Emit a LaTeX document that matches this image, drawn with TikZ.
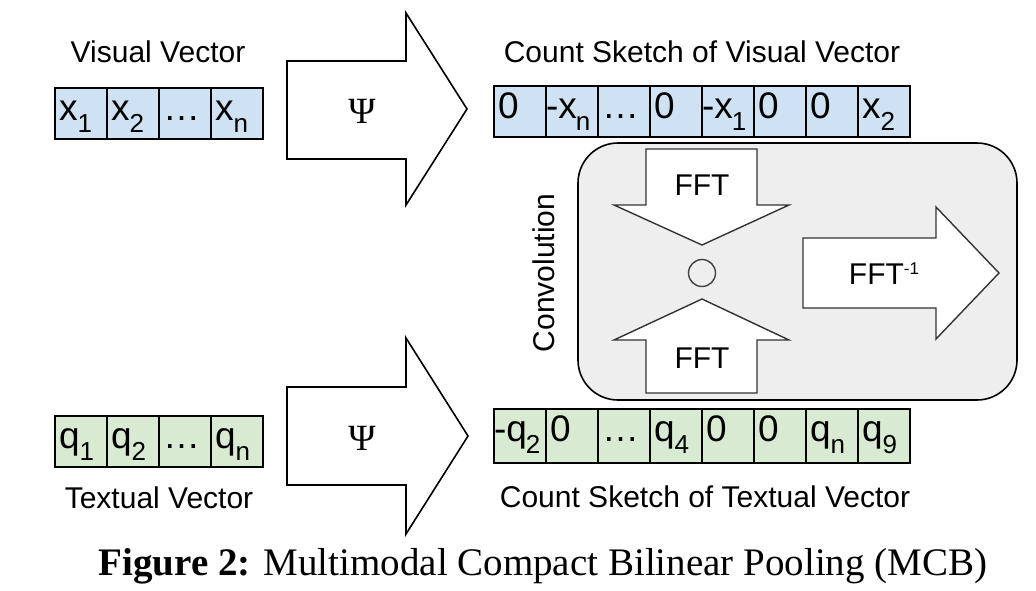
\documentclass[tikz,border=0pt]{standalone}
\usepackage{fontspec}
\setmainfont{Liberation Sans}
\newfontfamily\serifcap{Liberation Serif}
\usetikzlibrary{positioning}

\definecolor{visblue}{HTML}{CFE2F3}
\definecolor{txtgreen}{HTML}{D9EAD3}
\definecolor{convgray}{HTML}{EEEEEE}

\newcommand\lowidx[1]{\raisebox{-12pt}{\fontsize{26}{26}\selectfont #1}}
\newcommand\highidx[1]{\raisebox{10pt}{\fontsize{17}{17}\selectfont #1}}
\newcommand\negval[2]{\mbox{\hspace{-4pt}-#1\kern-1pt\lowidx{#2}}}

\tikzset{
  cell/.style={draw, line width=1.6pt, outer sep=0pt, inner xsep=4pt, inner ysep=4pt,
    text width=44pt, align=left, text height=28pt, text depth=15pt,
    font=\fontsize{37}{37}\selectfont, anchor=north west},
  viscell/.style={cell, fill=visblue},
  txtcell/.style={cell, fill=txtgreen},
  sketchcell/.style={txtcell, text height=28pt, text depth=18pt},
  heading/.style={font=\fontsize{30}{36}\selectfont, anchor=base},
  block/.style={draw, line width=1.6pt, fill=white, line join=miter},
  innerblock/.style={block, draw=black!80, line width=1.4pt},
  psi/.style={font=\serifcap\fontsize{37}{37}\selectfont, anchor=base},
}

\begin{document}
\begin{tikzpicture}[x=1pt, y=-1pt]
    \useasboundingbox (0,0) rectangle (1036,590);

    % convolution box
    \draw[line width=1.6pt, fill=convgray, rounded corners=40pt] (578,143) rectangle (1017,400);
    \node[heading, anchor=center, rotate=90] (conv) at (544,273) {Convolution};

    % block arrows
    \draw[block] (287,61) -- (406,61) -- (406,13) -- (467,109) -- (406,205) -- (406,159) -- (287,159) -- cycle;
    \draw[block] (287,387) -- (406,387) -- (406,338) -- (468,436) -- (406,534) -- (406,485) -- (287,485) -- cycle;
    \draw[innerblock] (646,149) -- (757,149) -- (757,205) -- (789,205) -- (702,245) -- (614,205) -- (646,205) -- cycle;
    \draw[innerblock] (646,393) -- (757,393) -- (757,340) -- (789,340) -- (702,299) -- (614,340) -- (646,340) -- cycle;
    \draw[innerblock] (803,238) -- (936,238) -- (936,207) -- (999,273) -- (936,339) -- (936,308) -- (803,308) -- cycle;

    \node[psi] (psiV) at (362,123) {Ψ};
    \node[psi] (psiT) at (362,450) {Ψ};
    \node[heading] (fftV) at (702,195) {FFT};
    \node[heading] (fftT) at (702,368) {FFT};
    \node[heading] (ifft) at (884,284) {FFT\highidx{-1}};
    \node[draw=black!75, circle, line width=1.4pt, minimum size=27pt, inner sep=0pt] (prod) at (702,273) {};

    % visual vector
    \node[heading] (visV) at (158,62) {Visual Vector};
    \node[viscell] (x1) at (55,88) {x\lowidx{1}};
    \node[viscell, right=0pt of x1] (x2) {x\lowidx{2}};
    \node[viscell, right=0pt of x2] (xd) {\dots};
    \node[viscell, right=0pt of xd] (xn) {x\lowidx{n}};

    % count sketch of visual vector
    \node[heading] (visS) at (702,62) {Count Sketch of Visual Vector};
    \node[viscell] (sv1) at (494,86) {0};
    \node[viscell, right=0pt of sv1] (sv2) {\negval{x}{n}};
    \node[viscell, right=0pt of sv2] (sv3) {\dots};
    \node[viscell, right=0pt of sv3] (sv4) {0};
    \node[viscell, right=0pt of sv4] (sv5) {\negval{x}{1}};
    \node[viscell, right=0pt of sv5] (sv6) {0};
    \node[viscell, right=0pt of sv6] (sv7) {0};
    \node[viscell, right=0pt of sv7] (sv8) {x\lowidx{2}};

    % textual vector
    \node[txtcell] (q1) at (55,416) {q\lowidx{1}};
    \node[txtcell, right=0pt of q1] (q2) {q\lowidx{2}};
    \node[txtcell, right=0pt of q2] (qd) {\dots};
    \node[txtcell, right=0pt of qd] (qn) {q\lowidx{n}};
    \node[heading] (txtV) at (159,508) {Textual Vector};

    % count sketch of textual vector
    \node[sketchcell] (st1) at (494,409) {\negval{q}{2}};
    \node[sketchcell, right=0pt of st1] (st2) {0};
    \node[sketchcell, right=0pt of st2] (st3) {\dots};
    \node[sketchcell, right=0pt of st3] (st4) {q\lowidx{4}};
    \node[sketchcell, right=0pt of st4] (st5) {0};
    \node[sketchcell, right=0pt of st5] (st6) {0};
    \node[sketchcell, right=0pt of st6] (st7) {q\lowidx{n}};
    \node[sketchcell, right=0pt of st7] (st8) {q\lowidx{9}};
    \node[heading] (txtS) at (705,507) {Count Sketch of Textual Vector};

    % caption
    \node[anchor=base, font=\serifcap\fontsize{39}{39}\selectfont] (caption) at (543,575)
      {\textbf{Figure 2:} Multimodal Compact Bilinear Pooling (MCB)};
  \end{tikzpicture}
\end{document}
